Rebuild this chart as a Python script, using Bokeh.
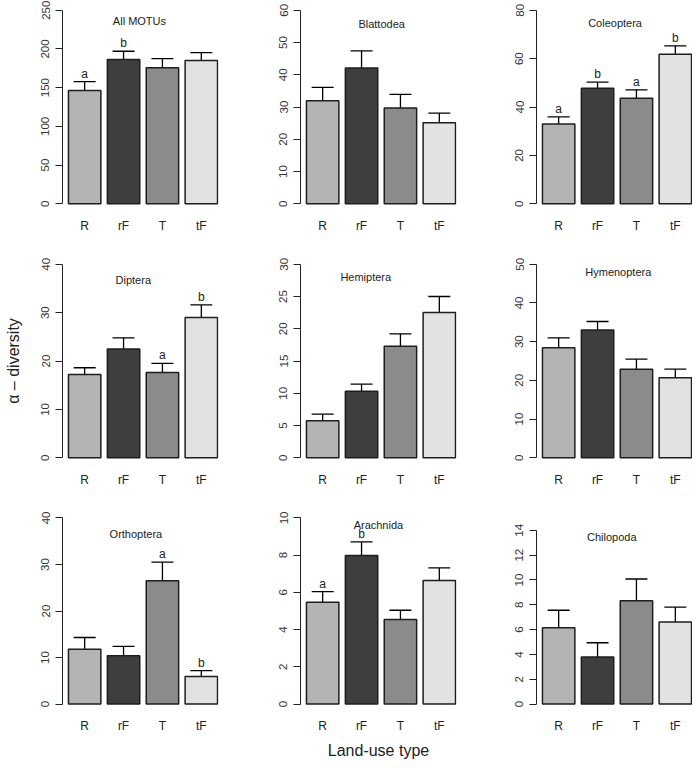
from bokeh.plotting import figure
from bokeh.layouts import column, row
from bokeh.models import Range1d, FixedTicker, ColumnDataSource, Whisker, TeeHead
from bokeh.core.properties import value
from bokeh.embed import file_html
from bokeh.resources import INLINE

FONT = "Liberation Sans"

# ---------------- data ----------------
categories = ["R", "rF", "T", "tF"]
bar_colors = ["#b4b4b4", "#3e3e3e", "#8b8b8b", "#e2e2e2"]

panel_names = ["All MOTUs", "Blattodea", "Coleoptera",
               "Diptera", "Hemiptera", "Hymenoptera",
               "Orthoptera", "Arachnida", "Chilopoda"]

all_motus_mean = [146.4, 186.3, 175.7, 185.0]
all_motus_lower = [135.4, 174.4, 164.7, 175.3]
all_motus_upper = [157.9, 197.0, 187.6, 195.2]
all_motus_letters = ["a", "b", "", ""]

blattodea_mean = [31.9, 42.1, 29.7, 25.1]
blattodea_lower = [27.6, 36.8, 25.8, 21.7]
blattodea_upper = [36.1, 47.4, 33.9, 28.1]
blattodea_letters = ["", "", "", ""]

coleoptera_mean = [33.0, 47.7, 43.6, 61.8]
coleoptera_lower = [30.3, 45.4, 40.1, 58.0]
coleoptera_upper = [35.9, 50.3, 47.1, 65.3]
coleoptera_letters = ["a", "b", "a", "b"]

diptera_mean = [17.2, 22.5, 17.6, 29.0]
diptera_lower = [15.7, 20.3, 15.7, 26.2]
diptera_upper = [18.6, 24.8, 19.5, 31.6]
diptera_letters = ["", "", "a", "b"]

hemiptera_mean = [5.75, 10.3, 17.3, 22.5]
hemiptera_lower = [4.83, 9.3, 15.4, 19.9]
hemiptera_upper = [6.76, 11.4, 19.2, 25.0]
hemiptera_letters = ["", "", "", ""]

hymenoptera_mean = [28.4, 33.0, 22.9, 20.7]
hymenoptera_lower = [25.9, 30.8, 20.1, 18.3]
hymenoptera_upper = [31.0, 35.2, 25.5, 22.9]
hymenoptera_letters = ["", "", "", ""]

orthoptera_mean = [11.8, 10.4, 26.5, 5.9]
orthoptera_lower = [9.6, 8.35, 22.5, 4.7]
orthoptera_upper = [14.3, 12.4, 30.5, 7.2]
orthoptera_letters = ["", "", "a", "b"]

arachnida_mean = [5.47, 7.98, 4.55, 6.64]
arachnida_lower = [4.86, 7.22, 4.07, 5.87]
arachnida_upper = [6.04, 8.71, 5.04, 7.32]
arachnida_letters = ["a", "b", "", ""]

chilopoda_mean = [6.16, 3.79, 8.33, 6.62]
chilopoda_lower = [4.79, 2.70, 6.52, 5.45]
chilopoda_upper = [7.56, 4.94, 10.08, 7.82]
chilopoda_letters = ["", "", "", ""]

# y-axis limits and tick labels per panel
ylim_max = [250, 60, 80, 40, 30, 50, 40, 10, 15]
y_ticks = [
    [0, 50, 100, 150, 200, 250],
    [0, 10, 20, 30, 40, 50, 60],
    [0, 20, 40, 60, 80],
    [0, 10, 20, 30, 40],
    [0, 5, 10, 15, 20, 25, 30],
    [0, 10, 20, 30, 40, 50],
    [0, 10, 20, 30, 40],
    [0, 2, 4, 6, 8, 10],
    [0, 2, 4, 6, 8, 10, 12, 14],
]
# panel-title anchor (data units)
title_x = [2.39, 2.52, 2.44, 2.2, 2.03, 2.54, 2.28, 2.42, 2.34]
title_y = [236, 55.7, 74.6, 36.8, 28.0, 47.9, 36.6, 9.6, 13.5]

means = [all_motus_mean, blattodea_mean, coleoptera_mean, diptera_mean, hemiptera_mean,
         hymenoptera_mean, orthoptera_mean, arachnida_mean, chilopoda_mean]
lowers = [all_motus_lower, blattodea_lower, coleoptera_lower, diptera_lower, hemiptera_lower,
          hymenoptera_lower, orthoptera_lower, arachnida_lower, chilopoda_lower]
uppers = [all_motus_upper, blattodea_upper, coleoptera_upper, diptera_upper, hemiptera_upper,
          hymenoptera_upper, orthoptera_upper, arachnida_upper, chilopoda_upper]
letters = [all_motus_letters, blattodea_letters, coleoptera_letters, diptera_letters,
           hemiptera_letters, hymenoptera_letters, orthoptera_letters, arachnida_letters,
           chilopoda_letters]

# ---------------- layout ----------------
bar_x = [0.7 + 1.2 * i for i in range(len(categories))]
X0, X1 = 0.016, 4.83
col_w = [238, 236, 218]
FRAME_L = 62
FRAME_W = 156
FRAME_H = 209
row_top = [2, 2, 2]
row_bottom = [43, 43, 42]
LETTER_GAP_PX = 1


def make_panel(i):
    r, c = divmod(i, 3)
    ymax = ylim_max[i]
    y0, y1 = -0.04 * ymax, 1.04 * ymax
    p = figure(width=col_w[c], height=row_top[r] + FRAME_H + row_bottom[r],
               output_backend="svg", toolbar_location=None,
               x_range=Range1d(X0, X1), y_range=Range1d(y0, y1),
               min_border_left=FRAME_L, min_border_right=col_w[c] - FRAME_L - FRAME_W,
               min_border_top=row_top[r], min_border_bottom=row_bottom[r])
    p.outline_line_color = None
    p.xgrid.visible = False
    p.ygrid.visible = False
    p.background_fill_color = "white"
    p.border_fill_color = "white"

    src = ColumnDataSource(dict(x=bar_x, top=means[i], lower=lowers[i], upper=uppers[i],
                                color=bar_colors))
    p.vbar(x="x", top="top", bottom=0, width=1.0, fill_color="color",
           line_color="#1e1e1e", line_width=1.5, source=src)
    w = Whisker(source=src, base="x", upper="upper", lower="lower",
                line_color="black", line_width=1.3,
                upper_head=TeeHead(size=22, line_color="black", line_width=1.3),
                lower_head=TeeHead(size=22, line_color="black", line_width=1.3))
    p.add_layout(w)

    # significance letters, just above the error bar
    units_per_px = (y1 - y0) / FRAME_H
    lx = [bar_x[k] for k in range(4) if letters[i][k]]
    ly = [uppers[i][k] + LETTER_GAP_PX * units_per_px for k in range(4) if letters[i][k]]
    lt = [letters[i][k] for k in range(4) if letters[i][k]]
    if lt:
        p.text(x=lx, y=ly, text=lt, text_align="center", text_baseline="bottom",
               text_font=value(FONT), text_font_size="12px", text_color="#222222")

    # panel title
    p.text(x=[title_x[i]], y=[title_y[i]], text=[panel_names[i]], text_align="center",
           text_baseline="middle", text_font=value(FONT), text_font_size="11px",
           text_color="#222222")

    # y axis
    ya = p.yaxis[0]
    ya.ticker = FixedTicker(ticks=y_ticks[i])
    ya.bounds = (y_ticks[i][0], y_ticks[i][-1])
    ya.major_tick_in = 0
    ya.major_tick_out = 7
    ya.minor_tick_line_color = None
    ya.major_label_orientation = "vertical"
    ya.major_label_standoff = 6
    ya.major_label_text_font = FONT
    ya.major_label_text_font_size = "11.5px"
    ya.major_label_text_color = "#333333"
    ya.axis_line_color = "#222222"
    ya.major_tick_line_color = "#222222"

    # x axis
    xa = p.xaxis[0]
    xa.ticker = FixedTicker(ticks=bar_x)
    xa.major_label_overrides = {bar_x[k]: categories[k] for k in range(4)}
    xa.axis_line_color = None
    xa.major_tick_line_color = None
    xa.minor_tick_line_color = None
    xa.major_tick_in = 0
    xa.major_tick_out = 0
    xa.major_label_standoff = 7
    xa.major_label_text_font = FONT
    xa.major_label_text_font_size = "12px"
    xa.major_label_text_color = "#222222"

    if i == 3:
        ya.axis_label = "α – diversity"
        ya.axis_label_standoff = 17
        ya.axis_label_text_font = FONT
        ya.axis_label_text_font_size = "16px"
        ya.axis_label_text_font_style = "normal"
        ya.axis_label_text_color = "#222222"
    if i == 7:
        xa.axis_label = "Land-use type"
        xa.axis_label_standoff = 6
        xa.axis_label_text_font = FONT
        xa.axis_label_text_font_size = "16px"
        xa.axis_label_text_font_style = "normal"
        xa.axis_label_text_color = "#222222"
    return p


panels = [make_panel(i) for i in range(9)]
layout = column(row(*panels[0:3]), row(*panels[3:6]), row(*panels[6:9]))

open("out.html", "w", encoding="utf-8").write(file_html(layout, INLINE))
